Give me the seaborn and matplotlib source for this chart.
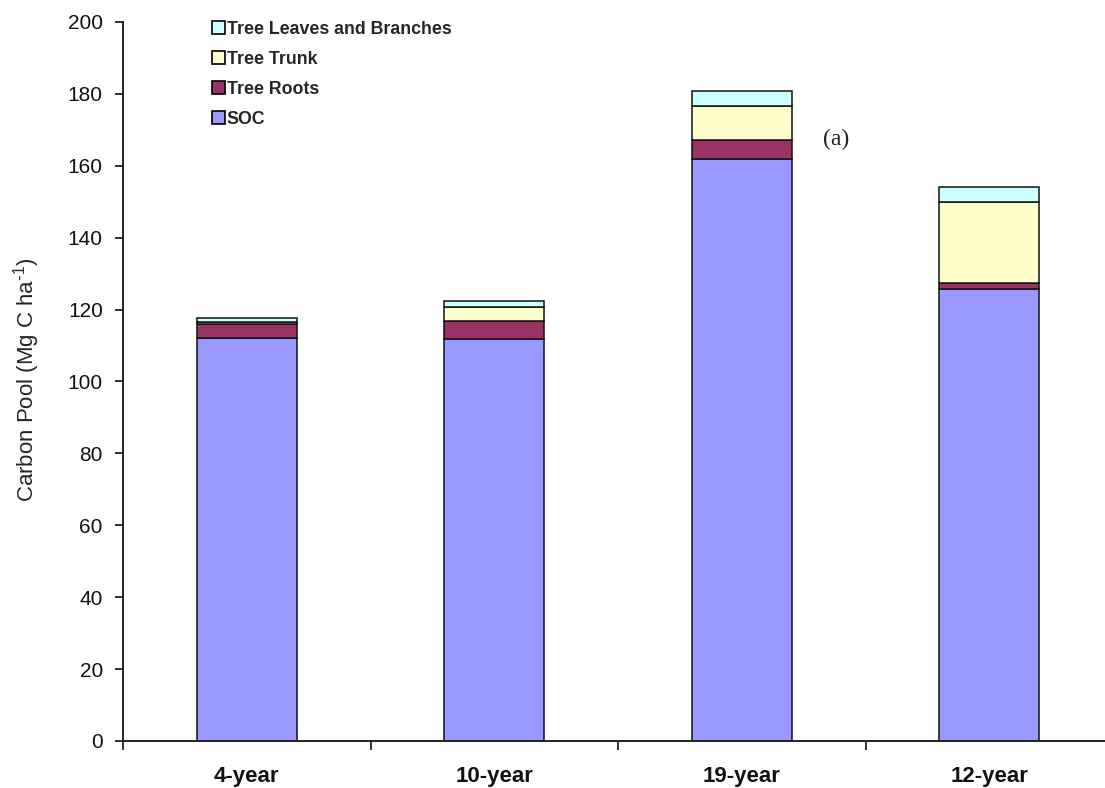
import matplotlib
matplotlib.use("Agg")
import matplotlib.pyplot as plt
import seaborn as sns
import numpy as np
import pandas as pd
from matplotlib.patches import Patch
from matplotlib.ticker import FixedLocator

categories = ["4-year", "10-year", "19-year", "12-year"]
soc = [112.0, 111.9, 162.0, 125.6]
roots = [3.9, 4.8, 5.2, 1.9]
trunk = [0.7, 4.1, 9.4, 22.3]
leaves = [1.1, 1.6, 4.2, 4.4]
series_names = ["SOC", "Tree Roots", "Tree Trunk", "Tree Leaves and Branches"]
colors = ["#9999FF", "#993366", "#FFFFCC", "#CCFFFF"]

sns.set_theme(style="white")
plt.rcParams['font.family'] = ['Liberation Sans', 'DejaVu Sans']
plt.rcParams['mathtext.default'] = 'regular'

fig = plt.figure(figsize=(11.05, 7.88), dpi=100)
ax = fig.add_axes([123/1105, 47/788, 990/1105, 719/788])

layers = [soc, roots, trunk, leaves]
bottom = np.zeros(len(categories))
for name, vals, col in zip(series_names, layers, colors):
    df = pd.DataFrame({"cat": categories, "val": vals})
    sns.barplot(data=df, x="cat", y="val", order=categories, color=col,
                width=0.405, bottom=bottom.copy(), edgecolor="#111111",
                linewidth=1.1, saturation=1, ax=ax, errorbar=None)
    bottom = bottom + np.array(vals)

ax.set_xlim(-0.5, 3.5)
ax.set_ylim(0, 200)
ax.set_yticks(np.arange(0, 201, 20))
ax.set_xlabel("")
ax.set_ylabel("Carbon Pool (Mg C ha$^{\\text{-}1}$)", fontsize=16)
ax.yaxis.set_label_coords(-0.082, 0.502)

for s in ["top", "right"]:
    ax.spines[s].set_visible(False)
for s in ["left", "bottom"]:
    ax.spines[s].set_color("#222222")
    ax.spines[s].set_linewidth(1.4)

ax.tick_params(axis="y", which="major", direction="out", length=6, width=1.3,
               left=True, labelsize=15, pad=8.5, color="#222222",
               labelcolor="#111111")
ax.tick_params(axis="x", which="major", length=0, labelsize=16, pad=18,
               labelcolor="#111111")
ax.xaxis.set_minor_locator(FixedLocator([-0.5, 0.5, 1.5, 2.5, 3.5]))
ax.tick_params(axis="x", which="minor", direction="out", length=6.5, width=1.3,
               bottom=True, color="#222222")
for lab in ax.get_xticklabels():
    lab.set_fontweight("bold")

handles = [Patch(facecolor=c, edgecolor="black", linewidth=1.2) for c in colors]
leg = ax.legend(handles[::-1], series_names[::-1], loc="upper left",
                bbox_to_anchor=(89/990, 1 + 1/719), frameon=False,
                prop={"size": 12.8, "weight": "bold"}, handlelength=0.72,
                handleheight=0.72, handletextpad=0.12, labelspacing=0.73,
                borderpad=0, borderaxespad=0)

ax.text(2.38, 167.3, "(a)", fontsize=17, family="Liberation Serif",
        ha="center", va="center", color="#222222")

fig.savefig("out.png", dpi=100)
